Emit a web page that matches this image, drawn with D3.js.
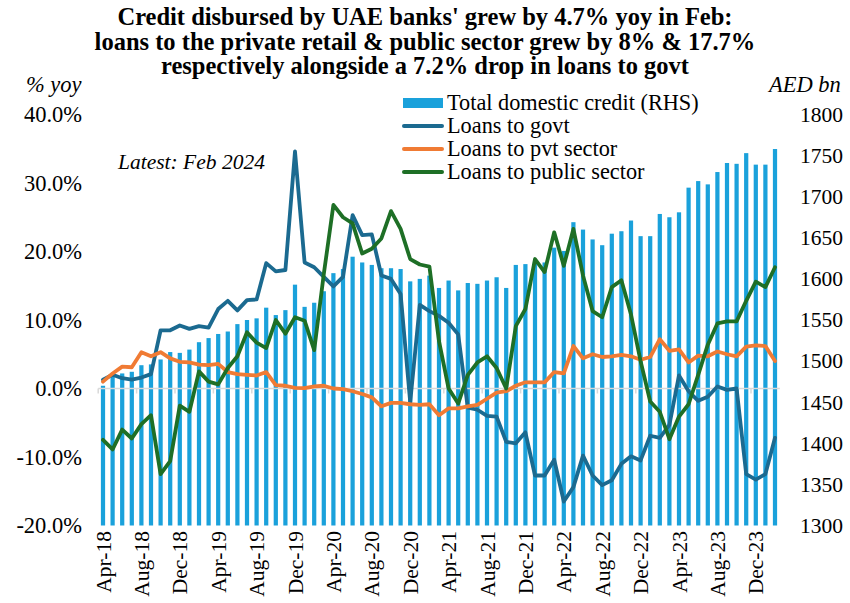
<!DOCTYPE html>
<html>
<head>
<meta charset="utf-8">
<script src="https://cdn.jsdelivr.net/npm/d3@7"></script>
<style>
  html, body { margin: 0; padding: 0; background: #ffffff; }
  svg { display: block; }
  text { font-family: "Liberation Serif", "Times New Roman", serif; fill: #000; }
</style>
</head>
<body>
<svg id="chart" width="850" height="603"></svg>
<script>
const months = [
  "Apr-18","May-18","Jun-18","Jul-18","Aug-18","Sep-18","Oct-18","Nov-18","Dec-18",
  "Jan-19","Feb-19","Mar-19","Apr-19","May-19","Jun-19","Jul-19","Aug-19","Sep-19","Oct-19","Nov-19","Dec-19",
  "Jan-20","Feb-20","Mar-20","Apr-20","May-20","Jun-20","Jul-20","Aug-20","Sep-20","Oct-20","Nov-20","Dec-20",
  "Jan-21","Feb-21","Mar-21","Apr-21","May-21","Jun-21","Jul-21","Aug-21","Sep-21","Oct-21","Nov-21","Dec-21",
  "Jan-22","Feb-22","Mar-22","Apr-22","May-22","Jun-22","Jul-22","Aug-22","Sep-22","Oct-22","Nov-22","Dec-22",
  "Jan-23","Feb-23","Mar-23","Apr-23","May-23","Jun-23","Jul-23","Aug-23","Sep-23","Oct-23","Nov-23","Dec-23",
  "Jan-24","Feb-24"
];

// Total domestic credit, AED bn (RHS)
const totalCredit = [
  1470,1485,1485,1487,1495,1496,1502,1511,1510,
  1514,1523,1528,1533,1536,1545,1550,1552,1565,1556,1562,1593,
  1566,1571,1585,1607,1612,1627,1620,1617,1613,1613,1612,1597,
  1600,1604,1589,1598,1586,1595,1594,1598,1602,1589,1617,1618,
  1620,1620,1638,1634,1669,1660,1648,1641,1655,1658,1671,1652,
  1652,1679,1675,1681,1711,1719,1715,1730,1741,1740,1753,1739,
  1739,1758
];

// Loans to govt, % yoy
const loansGovt = [
  1.3,2.0,1.5,1.3,1.6,2.1,8.5,8.5,9.2,
  8.7,9.1,8.9,11.6,12.8,11.4,12.9,13.0,18.3,17.1,17.3,34.6,
  18.4,17.7,16.3,14.9,16.3,25.3,22.4,22.5,16.5,16.0,13.8,-2.0,
  12.2,11.3,10.6,9.6,7.9,-2.8,-3.1,-4.0,-4.1,-7.8,-8.0,-6.4,
  -12.7,-12.7,-10.4,-16.5,-14.4,-9.8,-12.7,-14.1,-13.4,-11.0,-9.9,-10.5,
  -6.9,-7.2,-5.3,1.9,-0.4,-1.8,-1.2,0.3,-0.2,0.0,-12.5,-13.3,
  -12.5,-7.2
];

// Loans to pvt sector, % yoy
const loansPvt = [
  1.0,2.2,3.2,3.1,5.3,4.7,5.3,4.4,3.9,
  3.8,3.5,3.4,3.6,2.4,2.1,2.0,1.9,2.4,0.5,0.4,0.1,
  0.05,0.3,0.4,0.0,-0.1,-0.4,-0.8,-1.3,-2.6,-2.1,-2.1,-2.3,
  -2.4,-2.3,-3.9,-2.9,-2.9,-2.6,-2.4,-1.5,-0.6,-0.4,0.4,0.9,
  0.9,0.9,2.4,2.2,6.2,4.4,5.0,4.6,4.7,4.9,4.7,4.2,
  4.6,7.2,5.5,5.7,3.8,4.8,4.7,5.4,5.0,4.7,6.1,6.3,
  6.2,4.0
];

// Loans to public sector, % yoy
const loansPublic = [
  -7.5,-8.9,-6.0,-7.3,-5.2,-3.9,-12.5,-10.6,-2.5,
  -3.4,2.5,1.0,0.6,3.0,4.7,8.2,6.7,5.9,10.0,8.0,10.4,
  9.9,5.6,16.7,26.8,25.0,24.1,19.7,20.4,21.9,25.9,23.3,18.9,
  18.1,17.8,6.9,0.0,-2.2,2.0,3.8,4.7,3.0,0.0,9.1,11.6,
  18.9,17.0,22.8,17.9,23.3,16.5,11.3,10.4,14.8,15.8,10.8,4.0,
  -1.9,-3.4,-7.4,-4.1,-2.3,2.0,6.4,9.5,9.8,9.8,12.8,15.6,
  14.8,17.7
];

const leftTicks = [-20, -10, 0, 10, 20, 30, 40];
const rightTicks = [1300, 1350, 1400, 1450, 1500, 1550, 1600, 1650, 1700, 1750, 1800];

const titleLines = [
  "Credit disbursed by UAE banks' grew by 4.7% yoy in Feb:",
  "loans to the private retail & public sector grew by 8% & 17.7%",
  "respectively alongside a 7.2% drop in loans to govt"
];

const seriesInfo = [
  { name: "Loans to govt", values: loansGovt, color: "#1B6A90" },
  { name: "Loans to pvt sector", values: loansPvt, color: "#F07B34" },
  { name: "Loans to public sector", values: loansPublic, color: "#1E6F26" }
];
const barColor = "#1AA1DB";

const svg = d3.select("#chart");

const plotLeft = 98.2, plotRight = 779.8, plotTop = 114.5, plotBottom = 525.5;

const x = d3.scaleBand().domain(months).range([plotLeft, plotRight])
  .paddingInner(0.56).paddingOuter(0.28);
const yL = d3.scaleLinear().domain([-20, 40]).range([plotBottom, plotTop]);
const yR = d3.scaleLinear().domain([1300, 1800]).range([plotBottom, plotTop]);
const cx = m => x(m) + x.bandwidth() / 2;

// Title
svg.append("g").selectAll("text").data(titleLines).join("text")
  .attr("x", 425).attr("y", (d, i) => 25 + i * 24.5)
  .attr("text-anchor", "middle")
  .style("font-weight", "bold").style("font-size", "24.5px")
  .text(d => d);

// Bars
svg.append("g").selectAll("rect").data(months).join("rect")
  .attr("x", d => x(d)).attr("width", x.bandwidth())
  .attr("y", (d, i) => yR(totalCredit[i]))
  .attr("height", (d, i) => yR(1300) - yR(totalCredit[i]))
  .attr("fill", barColor);

// Zero axis line with ticks at band boundaries
const gap = x.step() * x.paddingInner() / 2;
const axisY = yL(0);
svg.append("line").attr("x1", plotLeft).attr("x2", plotRight)
  .attr("y1", axisY).attr("y2", axisY)
  .attr("stroke", "#D9D9D9").attr("stroke-width", 1.5);
const boundaryMonths = months.filter((d, i) => i % 4 === 0);
svg.append("g").selectAll("line").data(boundaryMonths).join("line")
  .attr("x1", d => x(d) - gap).attr("x2", d => x(d) - gap)
  .attr("y1", axisY).attr("y2", axisY + 5)
  .attr("stroke", "#D9D9D9").attr("stroke-width", 1.5);

// Lines
const lineGen = vals => d3.line()
  .x((d, i) => cx(months[i]))
  .y(d => yL(d))(vals);
svg.append("g").selectAll("path").data(seriesInfo).join("path")
  .attr("d", d => lineGen(d.values))
  .attr("fill", "none").attr("stroke", d => d.color)
  .attr("stroke-width", 3.8).attr("stroke-linejoin", "round").attr("stroke-linecap", "round");

// Left axis
const leftAxis = svg.append("g").attr("transform", "translate(82,0)")
  .call(d3.axisLeft(yL).tickValues(leftTicks).tickSize(0).tickPadding(0)
    .tickFormat(d => d.toFixed(1) + "%"));
leftAxis.select(".domain").remove();
leftAxis.selectAll("text").style("font-size", "22.5px")
  .style("font-family", "'Liberation Serif', serif").attr("fill", "#000");

// Right axis
const rightAxis = svg.append("g").attr("transform", "translate(800,0)")
  .call(d3.axisRight(yR).tickValues(rightTicks).tickSize(0).tickPadding(0)
    .tickFormat(d3.format("d")));
rightAxis.select(".domain").remove();
rightAxis.selectAll("text").style("font-size", "21.5px")
  .style("font-family", "'Liberation Serif', serif").attr("fill", "#000");

// X labels (every 4 months), rotated
const labelMonths = months.filter((d, i) => i % 4 === 0);
svg.append("g").selectAll("text").data(labelMonths).join("text")
  .attr("transform", d => `translate(${cx(d)},531) rotate(-90)`)
  .attr("text-anchor", "end").attr("dy", "0.35em")
  .style("font-size", "21.5px")
  .text(d => d);

// Axis titles
svg.append("text").attr("x", 26).attr("y", 92).style("font-style", "italic")
  .style("font-size", "22.5px").text("% yoy");
svg.append("text").attr("x", 769).attr("y", 92).style("font-style", "italic")
  .style("font-size", "22.5px").text("AED bn");

// Latest note
svg.append("text").attr("x", 118).attr("y", 169).style("font-style", "italic")
  .style("font-size", "21.5px").text("Latest: Feb 2024");

// Legend
const legend = svg.append("g");
const legendItems = [
  { name: "Total domestic credit (RHS)", type: "bar", color: barColor },
  ...seriesInfo.map(s => ({ name: s.name, type: "line", color: s.color }))
];
const legY = [103, 126, 149, 172];
legendItems.forEach((d, i) => {
  if (d.type === "bar") {
    legend.append("rect").attr("x", 403).attr("y", legY[i] - 5).attr("width", 40).attr("height", 10)
      .attr("fill", d.color);
  } else {
    legend.append("line").attr("x1", 404).attr("x2", 442).attr("y1", legY[i]).attr("y2", legY[i])
      .attr("stroke", d.color).attr("stroke-width", 4).attr("stroke-linecap", "round");
  }
  legend.append("text").attr("x", 447).attr("y", legY[i] + 7)
    .style("font-size", "22.3px").text(d.name);
});
</script>
</body>
</html>
